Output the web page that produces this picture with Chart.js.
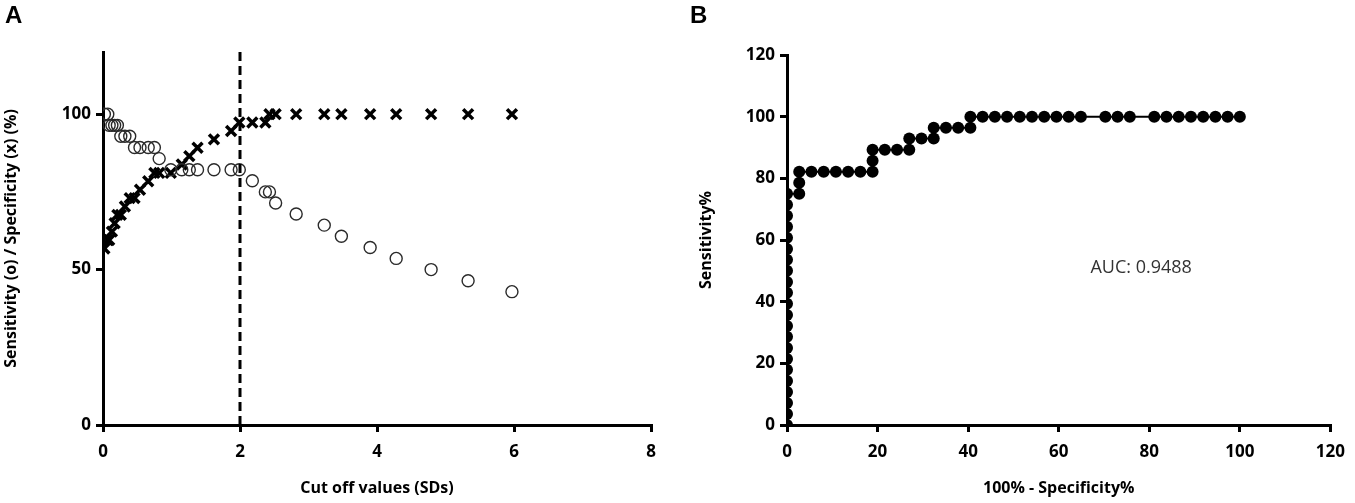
<!DOCTYPE html>
<html>
<head>
<meta charset="utf-8">
<script src="https://cdn.jsdelivr.net/npm/chart.js@4.4.1/dist/chart.umd.min.js"></script>
<style>
  html, body { margin: 0; padding: 0; background: #fff; }
  #wrap { position: relative; width: 1355px; height: 503px; overflow: hidden; }
  canvas { position: absolute; top: 0; }
  .panel { position: absolute; top: 1px; font: bold 24px "Liberation Sans", Arial, sans-serif; color: #000; }
</style>
</head>
<body>
<div id="wrap">
  <canvas id="chartA" width="690" height="503" style="left:0px"></canvas>
  <canvas id="chartB" width="660" height="503" style="left:695px"></canvas>
  <div class="panel" style="left:5px">A</div>
  <div class="panel" style="left:690px">B</div>
</div>
<script>
// ===== panel A: cut off values vs sensitivity / specificity =====
const cutoffs = [0.02, 0.07, 0.09, 0.13, 0.17, 0.21, 0.26, 0.32, 0.39, 0.46, 0.54, 0.66, 0.75, 0.82,
                 0.99, 1.15, 1.26, 1.38, 1.62, 1.87, 1.99, 2.18, 2.37, 2.43, 2.52, 2.82, 3.23, 3.48,
                 3.90, 4.28, 4.79, 5.33, 5.97];
const sensitivity = [100, 100, 96.4, 96.4, 96.4, 96.4, 92.9, 92.9, 92.9, 89.3, 89.3, 89.3, 89.3, 85.7,
                     82.1, 82.1, 82.1, 82.1, 82.1, 82.1, 82.1, 78.6, 75, 75, 71.4, 67.9, 64.3, 60.7,
                     57.1, 53.6, 50, 46.4, 42.9];
const specificity = [56.8, 59.5, 59.5, 62.2, 64.9, 67.6, 67.6, 70.3, 73.0, 73.0, 75.7, 78.4, 81.1, 81.1,
                     81.1, 83.8, 86.5, 89.2, 91.9, 94.6, 97.3, 97.3, 97.3, 100, 100, 100, 100, 100,
                     100, 100, 100, 100, 100];
const chosenCutoff = 2;
const ticksA_x = [0, 2, 4, 6, 8];
const ticksA_y = [0, 50, 100];

// ===== panel B: ROC curve =====
const rocFpr = [0, 0, 0, 0, 0, 0, 0, 0, 0, 0, 0, 0, 0, 0, 0, 0, 0, 0, 0, 0, 0, 0,
                2.7, 2.7, 2.7, 5.4, 8.1, 10.8, 13.5, 16.2, 18.9, 18.9, 18.9, 21.6, 24.3, 27.0, 27.0,
                29.7, 32.4, 32.4, 35.1, 37.8, 40.5, 40.5, 43.2, 45.9, 48.6, 51.4, 54.1, 56.8, 59.5,
                62.2, 64.9, 70.3, 73.0, 75.7, 81.1, 83.8, 86.5, 89.2, 91.9, 94.6, 97.3, 100];
const rocSens = [0, 3.6, 7.1, 10.7, 14.3, 17.9, 21.4, 25, 28.6, 32.1, 35.7, 39.3, 42.9, 46.4, 50,
                 53.6, 57.1, 60.7, 64.3, 67.9, 71.4, 75,
                 75, 78.6, 82.1, 82.1, 82.1, 82.1, 82.1, 82.1, 82.1, 85.7, 89.3, 89.3, 89.3, 89.3, 92.9,
                 92.9, 92.9, 96.4, 96.4, 96.4, 96.4, 100, 100, 100, 100, 100, 100, 100, 100,
                 100, 100, 100, 100, 100, 100, 100, 100, 100, 100, 100, 100, 100];
const aucLabel = 'AUC: 0.9488';
const ticksB = [0, 20, 40, 60, 80, 100, 120];

const FONT = '"Open Sans", "Noto Sans", sans-serif';

function axisOpts(min, max, keep, titleText, fixedSize, isY) {
    return {
        type: 'linear', min: min, max: max,
        ticks: { color: '#000', padding: isY ? 5 : 10,
                 font: { family: FONT, size: 17, weight: 'bold' } },
        afterBuildTicks: s => { s.ticks = keep.map(v => ({ value: v })); },
        afterFit: s => { if (isY) s.width = fixedSize; else s.height = fixedSize; },
        grid: { display: true, drawOnChartArea: false, drawTicks: true, tickLength: 7,
                color: '#000', lineWidth: 3 },
        border: { display: true, color: '#000', width: 3 },
        title: { display: true, text: titleText, color: '#000',
                 font: { family: FONT, size: 16, weight: 'bold' },
                 padding: { top: 2, bottom: 5 } }
    };
}

const aucPlugin = {
    id: 'aucText',
    afterDraw(chart) {
        const c = chart.ctx;
        c.save();
        c.fillStyle = '#333';
        c.font = '18px ' + FONT;
        c.textAlign = 'left';
        c.textBaseline = 'middle';
        c.fillText(aucLabel, chart.scales.x.getPixelForValue(67), chart.scales.y.getPixelForValue(51));
        c.restore();
    }
};

new Chart(document.getElementById('chartA'), {
    type: 'scatter',
    data: {
        datasets: [
            { label: 'cutoff', type: 'line',
              data: [{ x: chosenCutoff, y: 0 }, { x: chosenCutoff, y: 120 }],
              borderColor: '#000', borderWidth: 3, borderDash: [9, 5], pointRadius: 0 },
            { label: 'Sensitivity',
              data: cutoffs.map((c, i) => ({ x: c, y: sensitivity[i] })),
              pointStyle: 'circle', pointRadius: 6, borderColor: '#2a2a2a', borderWidth: 1.4,
              backgroundColor: 'rgba(0,0,0,0)' },
            { label: 'Specificity',
              data: cutoffs.map((c, i) => ({ x: c, y: specificity[i] })),
              pointStyle: 'crossRot', pointRadius: 7, borderColor: '#000', borderWidth: 3.5 }
        ]
    },
    options: {
        responsive: false, animation: false, devicePixelRatio: 1,
        layout: { padding: { top: 52, right: 39, left: 0, bottom: 0 } },
        plugins: { legend: { display: false }, tooltip: { enabled: false } },
        scales: {
            x: axisOpts(0, 8, ticksA_x, 'Cut off values (SDs)', 78, false),
            y: axisOpts(0, 120, ticksA_y, 'Sensitivity (o) / Specificity (x) (%)', 103, true)
        }
    }
});

new Chart(document.getElementById('chartB'), {
    type: 'line',
    data: {
        datasets: [
            { label: 'ROC',
              data: rocFpr.map((f, i) => ({ x: f, y: rocSens[i] })),
              borderColor: '#000', borderWidth: 2, pointRadius: 6, pointStyle: 'circle',
              pointBackgroundColor: '#000', pointBorderColor: '#000', pointBorderWidth: 0, tension: 0 }
        ]
    },
    options: {
        responsive: false, animation: false, devicePixelRatio: 1,
        layout: { padding: { top: 55, right: 19, left: 0, bottom: 0 } },
        plugins: { legend: { display: false }, tooltip: { enabled: false } },
        scales: {
            x: axisOpts(0, 120, ticksB, '100% - Specificity%', 78, false),
            y: axisOpts(0, 120, ticksB, 'Sensitivity%', 92, true)
        }
    },
    plugins: [aucPlugin]
});
</script>
</body>
</html>
